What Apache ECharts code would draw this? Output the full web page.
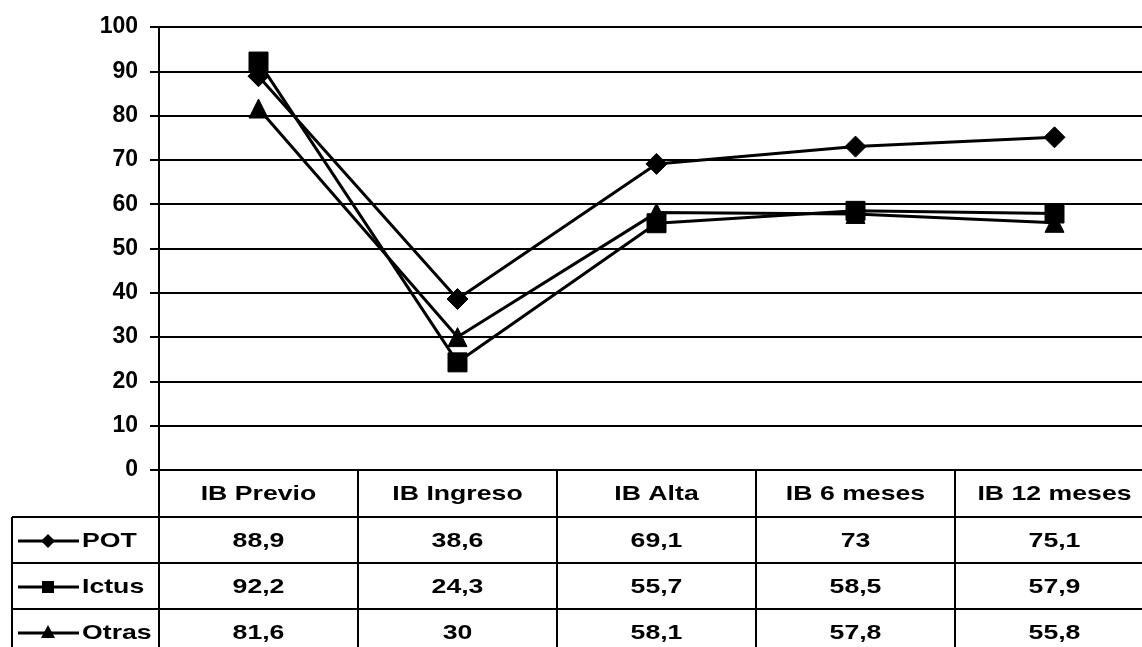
<!DOCTYPE html>
<html>
<head>
<meta charset="utf-8">
<script src="https://cdn.jsdelivr.net/npm/echarts@6/dist/echarts.min.js"></script>
<style>
  html, body { margin: 0; padding: 0; background: #fff; }
  #chart { width: 1142px; height: 647px; }
</style>
</head>
<body>
<div id="chart"></div>
<script>
// Índice de Barthel por grupo y momento de evaluación
const categories = ['IB Previo', 'IB Ingreso', 'IB Alta', 'IB 6 meses', 'IB 12 meses'];
const seriesNames = ['POT', 'Ictus', 'Otras'];
const potValues = [88.9, 38.6, 69.1, 73, 75.1];
const ictusValues = [92.2, 24.3, 55.7, 58.5, 57.9];
const otrasValues = [81.6, 30, 58.1, 57.8, 55.8];
const yTicks = [0, 10, 20, 30, 40, 50, 60, 70, 80, 90, 100];

const seriesValues = [potValues, ictusValues, otrasValues];
const seriesSymbols = ['diamond', 'rect', 'triangle'];

const FONT = '"Liberation Sans", Arial, sans-serif';
const INK = '#000';

const chart = echarts.init(document.getElementById('chart'), null, { renderer: 'canvas' });

const fmt = v => String(v).replace('.', ',');

chart.setOption({
  animation: false,
  backgroundColor: '#fff',
  // the last column runs slightly past the right edge of the page
  grid: {
    left: 159, width: 995, top: 27, bottom: 177,
    containLabel: false, outerBoundsMode: 'none'
  },
  xAxis: {
    type: 'category',
    data: categories,
    boundaryGap: true,
    axisLine: { show: true, lineStyle: { color: INK, width: 2 } },
    axisTick: { show: false },
    axisLabel: { show: false },
    splitLine: { show: false }
  },
  yAxis: {
    type: 'value',
    min: yTicks[0],
    max: yTicks[yTicks.length - 1],
    interval: yTicks[1] - yTicks[0],
    axisLine: { show: true, lineStyle: { color: INK, width: 2 } },
    axisTick: { show: true, length: 9, lineStyle: { color: INK, width: 2 } },
    axisLabel: {
      margin: 21,
      color: INK,
      fontFamily: FONT,
      fontWeight: 'bold',
      fontSize: 23
    },
    splitLine: { show: true, lineStyle: { color: INK, width: 2 } }
  },
  series: seriesNames.map((name, i) => ({
    name: name,
    type: 'line',
    data: seriesValues[i],
    symbol: seriesSymbols[i],
    symbolSize: i === 0 ? 21 : 19,
    showAllSymbol: true,
    z: 3 - i,
    lineStyle: { color: INK, width: 3 },
    itemStyle: { color: INK, borderColor: INK },
    emphasis: { disabled: true }
  }))
});

// Data table drawn under the plot, aligned with the category bands
function buildTable() {
  const cx = categories.map((c, i) => chart.convertToPixel({ xAxisIndex: 0 }, i));
  const step = cx[1] - cx[0];
  const bounds = cx.map(c => c - step / 2).concat([cx[cx.length - 1] + step / 2]);
  const top = chart.convertToPixel({ yAxisIndex: 0 }, 0);
  const headerH = 47;
  const rowH = 46;
  const bottom = top + headerH + rowH * 3 + 10;
  const leftEdge = 12;
  const stretch = 1.27;
  const els = [];
  const line = (x1, y1, x2, y2, w) => els.push({
    type: 'line', silent: true,
    shape: { x1, y1, x2, y2 },
    style: { stroke: INK, lineWidth: w || 2 }
  });
  const text = (str, x, y, align) => els.push({
    type: 'text', silent: true, x, y, scaleX: stretch,
    style: {
      text: str, x: 0, y: 0, align: align || 'center', verticalAlign: 'middle',
      fill: INK, font: 'bold 21px ' + FONT
    }
  });

  // grid lines of the table
  line(bounds[0], top, bounds[0], bottom);
  for (let i = 1; i < bounds.length - 1; i++) line(bounds[i], top, bounds[i], bottom);
  line(leftEdge, top + headerH, leftEdge, bottom);
  for (let r = 0; r < 3; r++) {
    const y = top + headerH + r * rowH;
    line(leftEdge, y, bounds[bounds.length - 1], y);
  }

  // header
  categories.forEach((c, i) => text(c, cx[i], top + headerH / 2 + 1));

  // rows
  seriesNames.forEach((name, r) => {
    const yc = top + headerH + r * rowH + rowH / 2 + 1;
    seriesValues[r].forEach((v, i) => text(fmt(v), cx[i], yc));
    // legend key
    line(18, yc, 79, yc, 3);
    const mx = 48;
    if (seriesSymbols[r] === 'diamond') {
      els.push({ type: 'polygon', silent: true,
        shape: { points: [[mx, yc - 7], [mx + 7, yc], [mx, yc + 7], [mx - 7, yc]] },
        style: { fill: INK } });
    } else if (seriesSymbols[r] === 'rect') {
      els.push({ type: 'rect', silent: true,
        shape: { x: mx - 6, y: yc - 6, width: 12, height: 12 },
        style: { fill: INK } });
    } else {
      els.push({ type: 'polygon', silent: true,
        shape: { points: [[mx, yc - 8], [mx + 7, yc + 5], [mx - 7, yc + 5]] },
        style: { fill: INK } });
    }
    text(name, 82, yc, 'left');
  });

  chart.setOption({ graphic: { elements: els } });
}

buildTable();
</script>
</body>
</html>
